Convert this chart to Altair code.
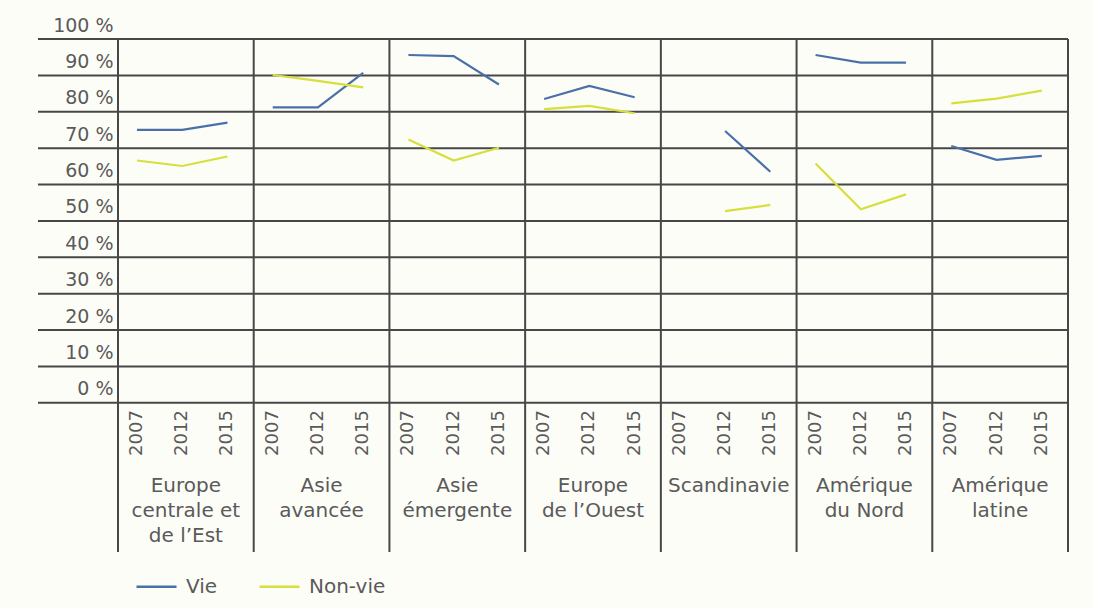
import altair as alt
import pandas as pd

regions = ["Europe\ncentrale et\nde l’Est", "Asie\navancée", "Asie\némergente",
           "Europe\nde l’Ouest", "Scandinavie", "Amérique\ndu Nord", "Amérique\nlatine"]
years = ["2007", "2012", "2015"]

vie = [
    [75.0, 75.0, 77.0],
    [81.2, 81.2, 90.7],
    [95.6, 95.3, 87.5],
    [83.5, 87.1, 84.0],
    [None, 74.7, 63.5],
    [95.6, 93.5, 93.5],
    [70.6, 66.8, 67.9],
]
non_vie = [
    [66.6, 65.1, 67.7],
    [90.1, 88.5, 86.7],
    [72.4, 66.6, 70.1],
    [80.7, 81.6, 79.6],
    [None, 52.7, 54.4],
    [65.8, 53.2, 57.3],
    [82.3, 83.6, 85.8],
]
series_names = ["Vie", "Non-vie"]
series_colors = ["#4a70a8", "#d6df3c"]
y_ticks = list(range(0, 101, 10))

# layout constants (not data)
W, H = 1030, 513
PLOT_UNITS = 21
LEFT_UNITS = 80 / (950 / PLOT_UNITS)
X_MIN = -LEFT_UNITS
Y_MIN = -41
GRID = "#474747"
TXT = "#5a5a5a"
FONT = "DejaVu Sans"

rows = []
for g, reg in enumerate(regions):
    for k, yr in enumerate(years):
        for name, vals in zip(series_names, [vie, non_vie]):
            v = vals[g][k]
            if v is not None:
                rows.append({"region": reg, "year": yr, "series": name,
                             "pos": g * 3 + k + 0.42, "value": v})
df = pd.DataFrame(rows)

year_df = pd.DataFrame([{"pos": g * 3 + k + 0.42, "year": yr}
                        for g in range(len(regions)) for k, yr in enumerate(years)])
region_df = pd.DataFrame([{"pos": g * 3 + 1.5, "label": reg} for g, reg in enumerate(regions)])
hgrid_df = pd.DataFrame({"v": y_ticks})
vgrid_df = pd.DataFrame({"p": [g * 3 for g in range(len(regions) + 1)]})

xs = alt.Scale(domain=[X_MIN, PLOT_UNITS], nice=False, zero=False)
ys = alt.Scale(domain=[Y_MIN, 100], nice=False, zero=False)

hgrid = alt.Chart(hgrid_df).mark_rule(color=GRID, strokeWidth=2).encode(
    y=alt.Y("v:Q", scale=ys, axis=alt.Axis(
        values=y_ticks, labelExpr="datum.value + ' %'", grid=False, domain=False,
        ticks=False, labelPadding=4, offset=-79, labelBaseline="middle",
        labelOffset=-14, labelFontSize=19, labelColor=TXT, labelFont=FONT, title=None)),
    x=alt.datum(X_MIN, scale=xs, axis=None),
    x2=alt.datum(PLOT_UNITS),
)

vgrid = alt.Chart(vgrid_df).mark_rule(color=GRID, strokeWidth=2).encode(
    x=alt.X("p:Q", scale=xs, axis=None),
    y=alt.datum(100, scale=ys),
    y2=alt.datum(Y_MIN),
)

lines = alt.Chart(df).mark_line(strokeWidth=2.2).encode(
    x=alt.X("pos:Q", scale=xs, axis=None),
    y=alt.Y("value:Q", scale=ys),
    color=alt.Color("series:N", scale=alt.Scale(domain=series_names, range=series_colors),
                    legend=alt.Legend(title=None, orient="none", legendX=97, legendY=526,
                                      direction="horizontal", symbolType="stroke",
                                      symbolSize=1600, symbolStrokeWidth=2.5,
                                      labelFontSize=20, labelColor=TXT, labelFont=FONT,
                                      labelOffset=8, columnPadding=36)),
    detail="region:N",
    order="pos:Q",
)

year_text = alt.Chart(year_df).mark_text(
    angle=270, align="right", baseline="middle", fontSize=18, color=TXT, font=FONT
).encode(
    x=alt.X("pos:Q", scale=xs),
    y=alt.datum(-2, scale=ys),
    text="year:N",
)

region_text = alt.Chart(region_df).mark_text(
    align="center", baseline="top", fontSize=20, color=TXT, font=FONT,
    lineBreak="\n", lineHeight=25
).encode(
    x=alt.X("pos:Q", scale=xs),
    y=alt.datum(-20, scale=ys),
    text="label:N",
)

chart = alt.layer(hgrid, vgrid, lines, year_text, region_text).properties(
    width=W, height=H,
    autosize=alt.AutoSizeParams(type="none"),
    padding={"left": 38, "top": 39, "right": 26, "bottom": 56},
    background="#fdfdf8",
).configure_view(stroke=None)

chart.save("out.html", embed_options={"renderer": "svg", "actions": False})
